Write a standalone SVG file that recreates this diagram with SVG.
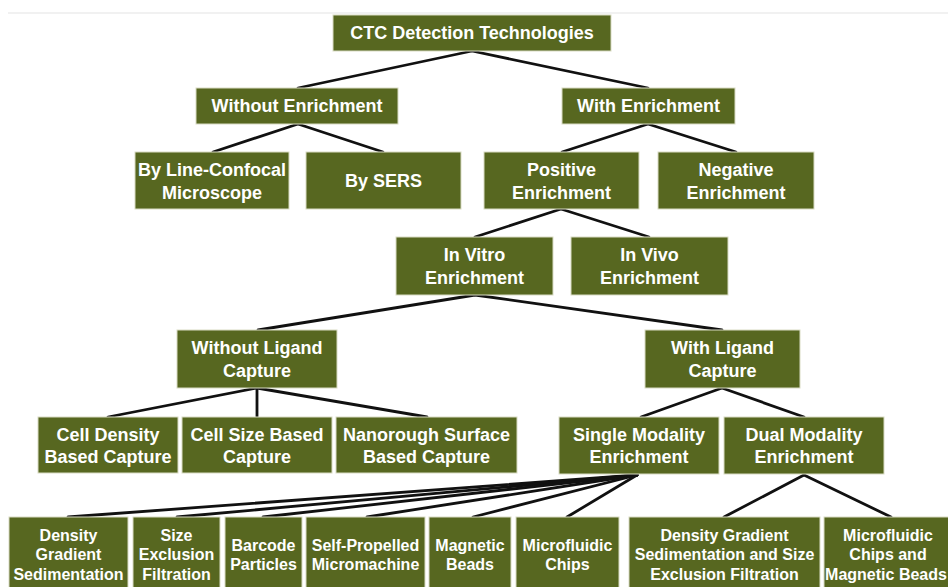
<svg xmlns="http://www.w3.org/2000/svg" width="948" height="587" viewBox="0 0 948 587">
  <style>
    .box { fill: #576720; stroke: #d9dcc4; stroke-width: 1; }
    .lbl { fill: #ffffff; font-family: "Liberation Sans", Arial, sans-serif; font-weight: bold; font-size: 18px; text-anchor: middle; }
    .sm { font-size: 16px; }
    .edge { stroke: #111111; stroke-width: 2.8; fill: none; stroke-linecap: round; }
  </style>
  <rect width="948" height="587" fill="#ffffff"/>
  <line x1="8" y1="13" x2="948" y2="13" stroke="#f1f1f1" stroke-width="2"/>

  <g id="connectors">
    <line class="edge" x1="472" y1="51" x2="298" y2="88"/>
    <line class="edge" x1="472" y1="51" x2="648" y2="88"/>
    <line class="edge" x1="298" y1="124" x2="213" y2="152"/>
    <line class="edge" x1="298" y1="124" x2="383" y2="152"/>
    <line class="edge" x1="648" y1="124" x2="562" y2="152"/>
    <line class="edge" x1="648" y1="124" x2="736" y2="152"/>
    <line class="edge" x1="561" y1="209" x2="475" y2="237"/>
    <line class="edge" x1="561" y1="209" x2="649" y2="237"/>
    <line class="edge" x1="475" y1="295" x2="258" y2="330"/>
    <line class="edge" x1="475" y1="295" x2="722" y2="330"/>
    <line class="edge" x1="257" y1="388" x2="108" y2="417"/>
    <line class="edge" x1="257" y1="388" x2="257" y2="417"/>
    <line class="edge" x1="257" y1="388" x2="427" y2="417"/>
    <line class="edge" x1="722" y1="388" x2="641" y2="417"/>
    <line class="edge" x1="722" y1="388" x2="804" y2="417"/>
    <line class="edge" x1="637" y1="475" x2="68" y2="517"/>
    <line class="edge" x1="637" y1="475" x2="177" y2="517"/>
    <line class="edge" x1="637" y1="475" x2="263" y2="517"/>
    <line class="edge" x1="637" y1="475" x2="367" y2="517"/>
    <line class="edge" x1="637" y1="475" x2="473" y2="517"/>
    <line class="edge" x1="637" y1="475" x2="567" y2="517"/>
    <line class="edge" x1="804" y1="475" x2="724" y2="517"/>
    <line class="edge" x1="804" y1="475" x2="891" y2="517"/>
  </g>

  <g id="ctc-detection">
    <rect class="box" x="333" y="15" width="278" height="36"/>
    <text class="lbl" x="472" y="39">CTC Detection Technologies</text>
  </g>
  <g id="without-enrichment">
    <rect class="box" x="196" y="88" width="202" height="36"/>
    <text class="lbl" x="297" y="112">Without Enrichment</text>
  </g>
  <g id="with-enrichment">
    <rect class="box" x="562" y="88" width="173" height="36"/>
    <text class="lbl" x="648.5" y="112">With Enrichment</text>
  </g>
  <g id="line-confocal">
    <rect class="box" x="135" y="152" width="154" height="57"/>
    <text class="lbl" x="212" y="176">By Line-Confocal</text>
    <text class="lbl" x="212" y="199">Microscope</text>
  </g>
  <g id="sers">
    <rect class="box" x="306" y="152" width="155" height="57"/>
    <text class="lbl" x="383.5" y="187">By SERS</text>
  </g>
  <g id="positive-enrichment">
    <rect class="box" x="484" y="152" width="155" height="57"/>
    <text class="lbl" x="561.5" y="176">Positive</text>
    <text class="lbl" x="561.5" y="199">Enrichment</text>
  </g>
  <g id="negative-enrichment">
    <rect class="box" x="658" y="152" width="156" height="57"/>
    <text class="lbl" x="736" y="176">Negative</text>
    <text class="lbl" x="736" y="199">Enrichment</text>
  </g>
  <g id="in-vitro">
    <rect class="box" x="396" y="237" width="157" height="58"/>
    <text class="lbl" x="474.5" y="261">In Vitro</text>
    <text class="lbl" x="474.5" y="284">Enrichment</text>
  </g>
  <g id="in-vivo">
    <rect class="box" x="571" y="237" width="157" height="58"/>
    <text class="lbl" x="649.5" y="261">In Vivo</text>
    <text class="lbl" x="649.5" y="284">Enrichment</text>
  </g>
  <g id="without-ligand">
    <rect class="box" x="177" y="330" width="160" height="58"/>
    <text class="lbl" x="257" y="354">Without Ligand</text>
    <text class="lbl" x="257" y="377">Capture</text>
  </g>
  <g id="with-ligand">
    <rect class="box" x="645" y="330" width="155" height="58"/>
    <text class="lbl" x="722.5" y="354">With Ligand</text>
    <text class="lbl" x="722.5" y="377">Capture</text>
  </g>
  <g id="cell-density">
    <rect class="box" x="38" y="417" width="140" height="56"/>
    <text class="lbl" x="108" y="441">Cell Density</text>
    <text class="lbl" x="108" y="463">Based Capture</text>
  </g>
  <g id="cell-size">
    <rect class="box" x="182" y="417" width="150" height="56"/>
    <text class="lbl" x="257" y="441">Cell Size Based</text>
    <text class="lbl" x="257" y="463">Capture</text>
  </g>
  <g id="nanorough">
    <rect class="box" x="336" y="417" width="181" height="56"/>
    <text class="lbl" x="426.5" y="441">Nanorough Surface</text>
    <text class="lbl" x="426.5" y="463">Based Capture</text>
  </g>
  <g id="single-modality">
    <rect class="box" x="559" y="417" width="160" height="57"/>
    <text class="lbl" x="639" y="441">Single Modality</text>
    <text class="lbl" x="639" y="463">Enrichment</text>
  </g>
  <g id="dual-modality">
    <rect class="box" x="724" y="417" width="160" height="57"/>
    <text class="lbl" x="804" y="441">Dual Modality</text>
    <text class="lbl" x="804" y="463">Enrichment</text>
  </g>
  <g id="density-gradient">
    <rect class="box" x="9" y="517" width="119" height="76"/>
    <text class="lbl sm" x="68.5" y="540.5">Density</text>
    <text class="lbl sm" x="68.5" y="560">Gradient</text>
    <text class="lbl sm" x="68.5" y="579.5">Sedimentation</text>
  </g>
  <g id="size-exclusion">
    <rect class="box" x="133" y="517" width="87" height="76"/>
    <text class="lbl sm" x="176.5" y="540.5">Size</text>
    <text class="lbl sm" x="176.5" y="560">Exclusion</text>
    <text class="lbl sm" x="176.5" y="579.5">Filtration</text>
  </g>
  <g id="barcode">
    <rect class="box" x="225" y="517" width="77" height="76"/>
    <text class="lbl sm" x="263.5" y="550.5">Barcode</text>
    <text class="lbl sm" x="263.5" y="570">Particles</text>
  </g>
  <g id="self-propelled">
    <rect class="box" x="306" y="517" width="119" height="76"/>
    <text class="lbl sm" x="365.5" y="550.5">Self-Propelled</text>
    <text class="lbl sm" x="365.5" y="570">Micromachine</text>
  </g>
  <g id="magnetic-beads">
    <rect class="box" x="429" y="517" width="82" height="76"/>
    <text class="lbl sm" x="470" y="550.5">Magnetic</text>
    <text class="lbl sm" x="470" y="570">Beads</text>
  </g>
  <g id="microfluidic-chips">
    <rect class="box" x="516" y="517" width="103" height="76"/>
    <text class="lbl sm" x="567.5" y="550.5">Microfluidic</text>
    <text class="lbl sm" x="567.5" y="570">Chips</text>
  </g>
  <g id="gradient-and-filtration">
    <rect class="box" x="629" y="517" width="191" height="76"/>
    <text class="lbl sm" x="724.5" y="540.5">Density Gradient</text>
    <text class="lbl sm" x="724.5" y="560">Sedimentation and Size</text>
    <text class="lbl sm" x="724.5" y="579.5">Exclusion Filtration</text>
  </g>
  <g id="chips-and-beads">
    <rect class="box" x="824" y="517" width="134" height="76"/>
    <text class="lbl sm" x="888" y="540.5">Microfluidic</text>
    <text class="lbl sm" x="888" y="560">Chips and</text>
    <text class="lbl sm" x="886" y="579.5">Magnetic Beads</text>
  </g>
</svg>
